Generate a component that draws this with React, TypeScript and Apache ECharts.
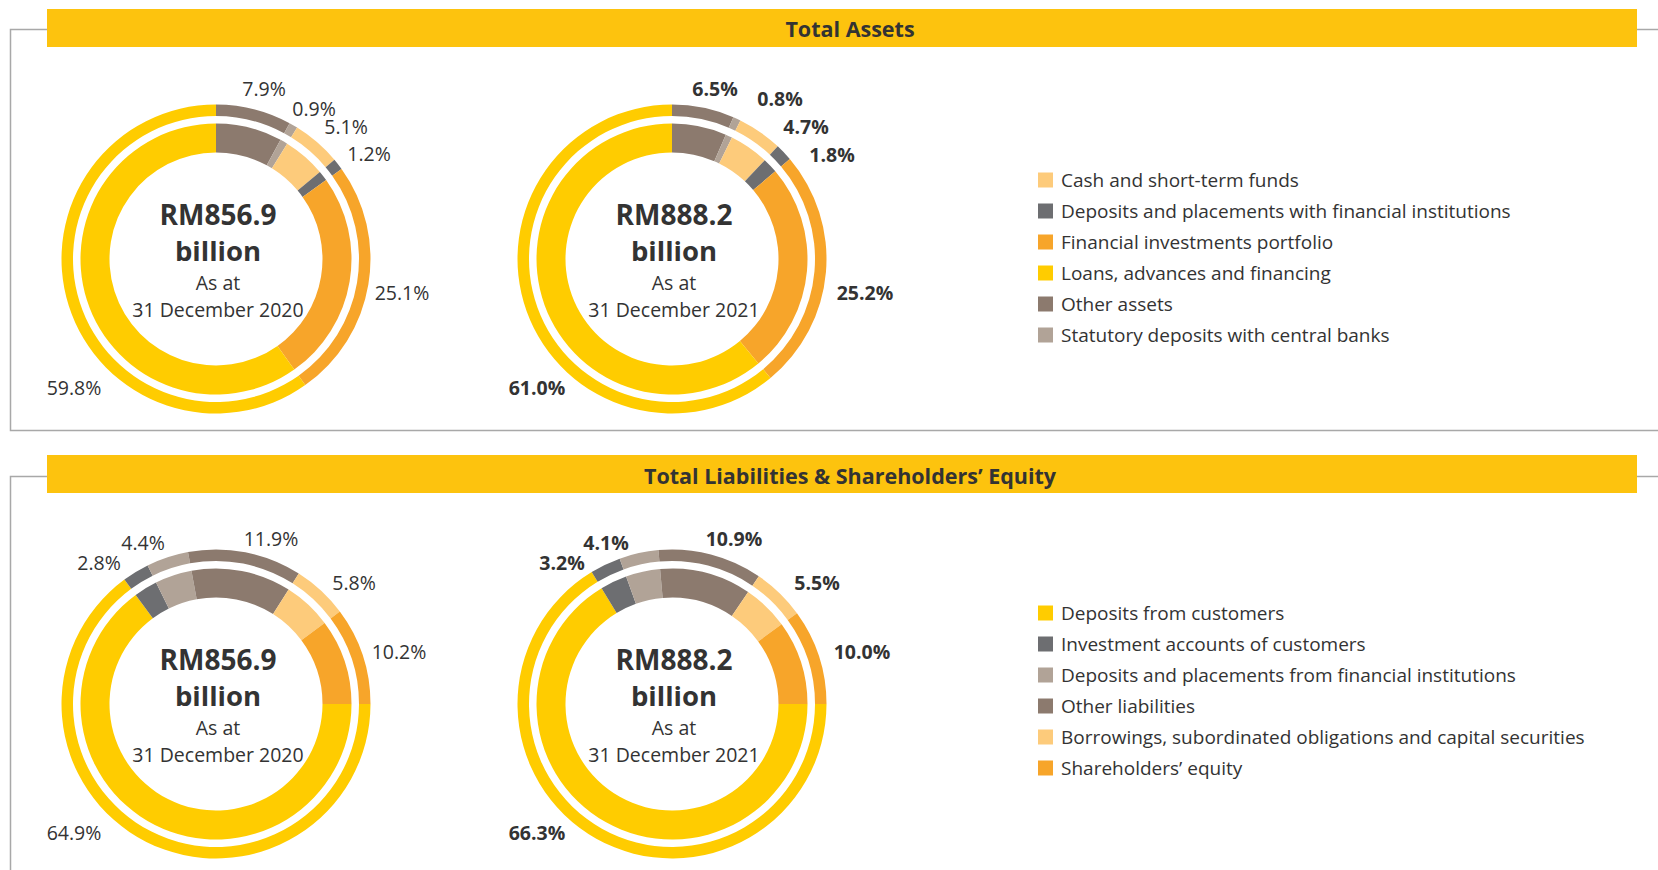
import React, { useEffect, useRef } from "react";
import * as echarts from "echarts";

// ---------- data ----------
const assetCategories = [
  "Cash and short-term funds",
  "Deposits and placements with financial institutions",
  "Financial investments portfolio",
  "Loans, advances and financing",
  "Other assets",
  "Statutory deposits with central banks",
];
const assets2020 = [5.1, 1.2, 25.1, 59.8, 7.9, 0.9];
const assets2021 = [4.7, 1.8, 25.2, 61.0, 6.5, 0.8];
// clockwise slice order from 12 o'clock
const assetSliceOrder = [4, 5, 0, 1, 2, 3];

const liabCategories = [
  "Deposits from customers",
  "Investment accounts of customers",
  "Deposits and placements from financial institutions",
  "Other liabilities",
  "Borrowings, subordinated obligations and capital securities",
  "Shareholders’ equity",
];
const liab2020 = [64.9, 2.8, 4.4, 11.9, 5.8, 10.2];
const liab2021 = [66.3, 3.2, 4.1, 10.9, 5.5, 10.0];
const liabSliceOrder = [0, 1, 2, 3, 4, 5];

const totals = ["RM856.9", "RM888.2"];
const dates = ["31 December 2020", "31 December 2021"];
const sectionTitles = ["Total Assets", "Total Liabilities & Shareholders’ Equity"];

// ---------- styles ----------
const assetColors = ["#FDCB7B", "#6D6E71", "#F7A52A", "#FFCC00", "#8C7A6E", "#B1A397"];
const liabColors = ["#FFCC00", "#6D6E71", "#B1A397", "#8C7A6E", "#FDCB7B", "#F7A52A"];
const FONT = "'Open Sans', 'Noto Sans', sans-serif";
const TXT = "#333333";

// label offsets from donut centre, in slice order
const labelOffAssets2020 = [[48, -171], [98, -151], [130, -133], [153, -106], [186, 33], [-142, 128]];
const labelOffAssets2021 = [[43, -171], [108, -161], [134, -133], [160, -105], [193, 33], [-135, 128]];
const labelOffLiab2020 = [[-142, 128], [-117, -142], [-73, -162], [55, -166], [138, -122], [183, -53]];
const labelOffLiab2021 = [[-135, 128], [-110, -142], [-66, -162], [62, -166], [145, -122], [190, -53]];

export default function App() {
  const ref = useRef<HTMLDivElement>(null);
  useEffect(() => {
    if (!ref.current) return;
    const chart = echarts.init(ref.current, undefined, { renderer: "svg" });

    const centres = [
      { cx: 216, cy: 259 },
      { cx: 672, cy: 259 },
      { cx: 216, cy: 704 },
      { cx: 672, cy: 704 },
    ];

    const donuts = [
      { names: assetCategories, values: assets2020, colors: assetColors, order: assetSliceOrder, start: 90, off: labelOffAssets2020, bold: false },
      { names: assetCategories, values: assets2021, colors: assetColors, order: assetSliceOrder, start: 90, off: labelOffAssets2021, bold: true },
      { names: liabCategories, values: liab2020, colors: liabColors, order: liabSliceOrder, start: 0, off: labelOffLiab2020, bold: false },
      { names: liabCategories, values: liab2021, colors: liabColors, order: liabSliceOrder, start: 0, off: labelOffLiab2021, bold: true },
    ];

    const series: any[] = [];
    donuts.forEach((d, i) => {
      const c = centres[i];
      const data = d.order.map((k) => ({
        name: d.names[k],
        value: d.values[k],
        itemStyle: { color: d.colors[k] },
      }));
      // inner thick ring
      series.push({
        type: "pie",
        center: [c.cx, c.cy],
        radius: [106.5, 135.5],
        startAngle: d.start,
        clockwise: true,
        silent: true,
        label: { show: false },
        labelLine: { show: false },
        itemStyle: { borderWidth: 0 },
        data,
      });
      // outer thin ring with labels
      series.push({
        type: "pie",
        center: [c.cx, c.cy],
        radius: [143, 154.5],
        startAngle: d.start,
        clockwise: true,
        silent: true,
        avoidLabelOverlap: false,
        itemStyle: { borderWidth: 0 },
        label: {
          show: true,
          position: "outside",
          formatter: (p: any) => Number(p.value).toFixed(1) + "%",
          fontSize: 19.5,
          fontFamily: FONT,
          fontWeight: d.bold ? "bold" : "normal",
          color: TXT,
        },
        labelLine: { show: false },
        labelLayout: (p: any) => {
          const o = d.off[p.dataIndex];
          return { x: c.cx + o[0], y: c.cy + o[1], align: "center", verticalAlign: "middle" };
        },
        data,
      });
    });

    const txt = (x: number, y: number, text: string, size: number, bold: boolean) => ({
      type: "text",
      x,
      y,
      silent: true,
      style: {
        text,
        fill: TXT,
        fontSize: size,
        fontWeight: bold ? "bold" : "normal",
        fontFamily: FONT,
        textAlign: "center",
        textVerticalAlign: "middle",
        align: "center",
        verticalAlign: "middle",
      },
    });

    const graphics: any[] = [];
    // frames
    const frameStyle = { stroke: "#A8A8A8", lineWidth: 1.5, fill: "none" };
    graphics.push({ type: "polyline", silent: true, shape: { points: [[48, 29.5], [10.5, 29.5], [10.5, 430.5], [1658, 430.5]] }, style: frameStyle });
    graphics.push({ type: "line", silent: true, shape: { x1: 1636, y1: 29.5, x2: 1658, y2: 29.5 }, style: frameStyle });
    graphics.push({ type: "polyline", silent: true, shape: { points: [[48, 476.5], [10.5, 476.5], [10.5, 870]] }, style: frameStyle });
    graphics.push({ type: "line", silent: true, shape: { x1: 1636, y1: 476.5, x2: 1658, y2: 476.5 }, style: frameStyle });
    // banners
    graphics.push({ type: "rect", silent: true, shape: { x: 47, y: 9, width: 1590, height: 38 }, style: { fill: "#FDC30E" } });
    graphics.push({ type: "rect", silent: true, shape: { x: 47, y: 455, width: 1590, height: 38 }, style: { fill: "#FDC30E" } });
    graphics.push(txt(850, 28.5, sectionTitles[0], 21.5, true));
    graphics.push(txt(850, 475, sectionTitles[1], 21.5, true));
    // centre texts
    centres.forEach((c, i) => {
      const yi = i % 2;
      const x = c.cx + 2;
      graphics.push(txt(x, c.cy - 45, totals[yi], 28, true));
      graphics.push(txt(x, c.cy - 9, "billion", 27.5, true));
      graphics.push(txt(x, c.cy + 23, "As at", 19.5, false));
      graphics.push(txt(x, c.cy + 50, dates[yi], 19.5, false));
    });

    const legendBase = {
      orient: "vertical",
      left: 1033,
      itemWidth: 15,
      itemHeight: 15,
      itemGap: 11,
      icon: "rect",
      selectedMode: false,
      textStyle: { fontSize: 19, lineHeight: 20, color: TXT, fontFamily: FONT, padding: [0, 0, 0, 3] },
    };

    chart.setOption({
      animation: false,
      backgroundColor: "#ffffff",
      legend: [
        { ...legendBase, top: 165, data: assetCategories },
        { ...legendBase, top: 598, data: liabCategories },
      ],
      series,
      graphic: { elements: graphics },
    });

    return () => chart.dispose();
  }, []);

  return (
    <div
      ref={ref}
      style={{ position: "absolute", left: 0, top: 0, width: "1658px", height: "870px" }}
    />
  );
}
